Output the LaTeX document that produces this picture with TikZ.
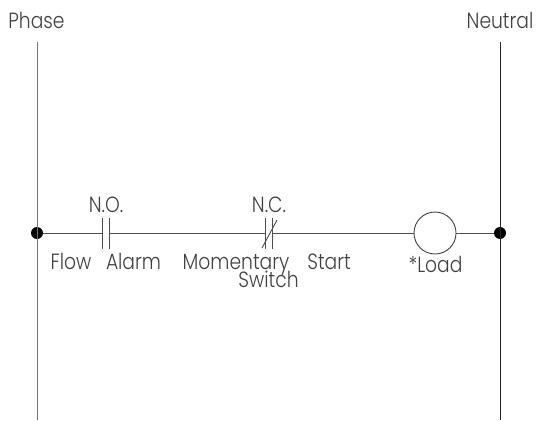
\documentclass[tikz,border=0pt]{standalone}
\usepackage{fontspec}
\setmainfont{Poppins}[UprightFont={* Light},FakeStretch=0.85]
\tikzset{
  railp/.style={draw=black!55,line width=1pt},
  railn/.style={draw=black!85,line width=.9pt},
  wire/.style={draw=black!70,line width=1pt},
  plate/.style={draw=black!70,line width=.9pt},
  dot/.style={circle,fill=black,inner sep=0pt,minimum size=12pt},
  loadc/.style={circle,draw=black!75,line width=.9pt,fill=none,inner sep=0pt,minimum size=42pt},
  lbl/.style={inner sep=0pt,text=black!75,font=\fontsize{22}{22}\selectfont,anchor=base}
}
\begin{document}
\begin{tikzpicture}[x=1pt,y=-1pt]
\useasboundingbox (0,0) rectangle (537,420);
\coordinate (pt) at (37,42); \coordinate (pb) at (37,420);
\coordinate (nt) at (500,42); \coordinate (nb) at (500,420);
\node[dot] (pd) at (37,233) {};
\node[dot] (nd) at (500,233) {};
\node[loadc] (load) at (435,233) {};
\coordinate (a1) at (102,233); \coordinate (a2) at (109,233);
\coordinate (b1) at (265,233); \coordinate (b2) at (272,233);
\draw[railp] (pt) -- (pb);
\draw[railn] (nt) -- (nb);
\draw[wire] (pd) -- (a1);
\draw[wire] (a2) -- (b1);
\draw[wire] (b2) -- (load);
\draw[wire] (load) -- (nd);
\draw[plate] (102,218) -- (102,249);
\draw[plate] (109,218) -- (109,249);
\draw[plate] (265,218) -- (265,249);
\draw[plate] (272,218) -- (272,249);
\draw[plate] (262,248) -- (277,220);
\node[lbl] (t1) at (36.5,29) {Phase};
\node[lbl] (t2) at (500,29) {Neutral};
\node[lbl] (t3) at (106,212) {N.O.};
\node[lbl] (t4) at (269,212) {N.C.};
\node[lbl] (t5) at (71,269) {Flow};
\node[lbl] (t6) at (133.5,269) {Alarm};
\node[lbl] (t7) at (236,269) {Momentary};
\node[lbl] (t8) at (268.5,287) {Switch};
\node[lbl] (t9) at (329,269) {Start};
\node[lbl] (t10) at (435.5,272) {*Load};
\end{tikzpicture}
\end{document}
